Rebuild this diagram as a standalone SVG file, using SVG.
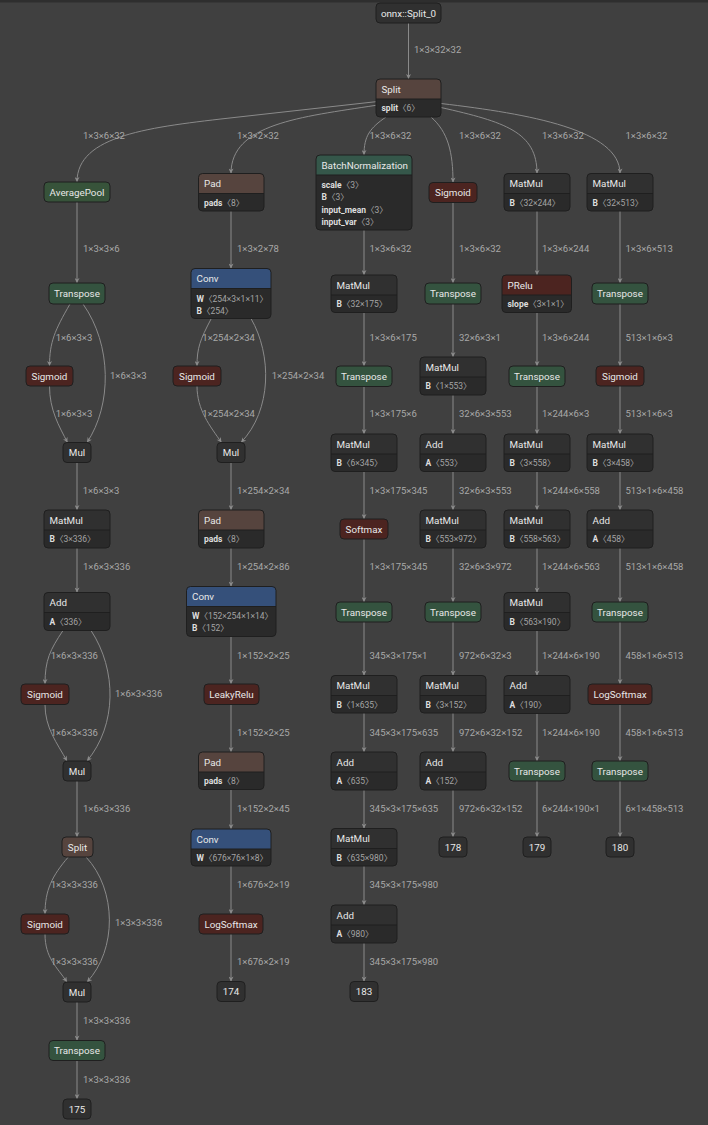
<svg xmlns="http://www.w3.org/2000/svg" width="708" height="1125" viewBox="0 0 708 1125">
<defs>
<marker id="ah" viewBox="0 0 10 10" refX="10" refY="5" markerWidth="6" markerHeight="5" markerUnits="userSpaceOnUse" orient="auto"><path d="M0,0 L10,5 L0,10 L3,5 z" fill="#8c8c8c"/></marker>
</defs>
<style>
.e{fill:none;stroke:#8a8a8a;stroke-width:1;marker-end:url(#ah)}
.el{font-family:Roboto,"Noto Sans CJK SC",sans-serif;font-size:9.5px;fill:#a8a8a8}
.t{font-family:Roboto,sans-serif;font-size:9.8px;fill:#e8e8e8}
.c{text-anchor:middle}
.a{font-family:Roboto,"Noto Sans CJK SC",sans-serif;font-size:8.5px;fill:#a4a4a4}
.k{font-weight:bold;fill:#dedede}
.o{fill:none;stroke:#1f1f1f;stroke-width:1}
.bd{fill:#2a2a2a}
.dk{fill:#303030}
.tf{fill:#34533f}
.nm{fill:#35574a}
.pl{fill:#37533a}
.ac{fill:#4c2420}
.tn{fill:#56443e}
.ly{fill:#35507a}
.dv{stroke:#1f1f1f;stroke-width:1}
</style>
<rect width="708" height="1125" fill="#404040"/>
<rect width="708" height="2.5" fill="#2e2e2e"/>
<g id="connectors">
<path class="e" d="M408.5,23 V79"/>
<path class="e" d="M376,101.7 L236,117.3 C150,127 77,135 77,182"/>
<path class="e" d="M376,105.3 C300,117 231,124 231,173.5"/>
<path class="e" d="M386,117 C370,128 364,136 364,155"/>
<path class="e" d="M431,117 C448,132 453,152 453,182.5"/>
<path class="e" d="M441,107.5 C505,122 537,132 537,173.5"/>
<path class="e" d="M441,103.5 C530,114 620,130 620,173.5"/>
<path class="e" d="M77,202 V283"/>
<path class="e" d="M70,304 C55,330 49.5,342 49.5,366"/>
<path class="e" d="M83,304 C112,345 112,405 87,442.5"/>
<path class="e" d="M49.5,386 C49.5,410 59,426 67.5,442.5"/>
<path class="e" d="M77,462.5 V510"/>
<path class="e" d="M77,548 V592.5"/>
<path class="e" d="M63,630.5 C50,650 45,660 45,684"/>
<path class="e" d="M91,630.5 C117,670 117,725 87,761"/>
<path class="e" d="M45,704.5 C45,728 57,743 67,761"/>
<path class="e" d="M77,781 V837"/>
<path class="e" d="M68.3,857 C52,876 45,890 45,914"/>
<path class="e" d="M86,857 C117,890 117,950 87,982"/>
<path class="e" d="M45,934 C45,958 57,967 67,982"/>
<path class="e" d="M77,1002 V1040.5"/>
<path class="e" d="M77,1060.5 V1099"/>
<path class="e" d="M231,211 V268.5"/>
<path class="e" d="M211.3,318.5 C200,340 197,348 197,366"/>
<path class="e" d="M251,318.5 C272,355 272,410 241,442.5"/>
<path class="e" d="M197,386 C197,410 210,426 221.5,442.5"/>
<path class="e" d="M231,462.5 V510"/>
<path class="e" d="M231,548 V586.5"/>
<path class="e" d="M231,636.5 V684"/>
<path class="e" d="M231,704.5 V752"/>
<path class="e" d="M231,789.5 V829"/>
<path class="e" d="M231,866 V914"/>
<path class="e" d="M231,934 V981.5"/>
<path class="e" d="M364,230 V275"/>
<path class="e" d="M364,312.5 V366"/>
<path class="e" d="M364,386.5 V434"/>
<path class="e" d="M364,471.5 V519"/>
<path class="e" d="M364,539 V602"/>
<path class="e" d="M364,622 V675.5"/>
<path class="e" d="M364,713 V752"/>
<path class="e" d="M364,790 V828.5"/>
<path class="e" d="M364,866 V905"/>
<path class="e" d="M364,943 V981.5"/>
<path class="e" d="M453,202.5 V283"/>
<path class="e" d="M453,304 V357"/>
<path class="e" d="M453,395 V434"/>
<path class="e" d="M453,471.5 V510"/>
<path class="e" d="M453,548 V602"/>
<path class="e" d="M453,622 V675.5"/>
<path class="e" d="M453,713 V752"/>
<path class="e" d="M453,790 V837"/>
<path class="e" d="M537,211 V275"/>
<path class="e" d="M537,312.5 V366"/>
<path class="e" d="M537,386.5 V434"/>
<path class="e" d="M537,471.5 V510"/>
<path class="e" d="M537,548 V592.5"/>
<path class="e" d="M537,630.5 V675.5"/>
<path class="e" d="M537,713.5 V761"/>
<path class="e" d="M537,781 V837"/>
<path class="e" d="M620,211 V283"/>
<path class="e" d="M620,304 V366"/>
<path class="e" d="M620,386 V434"/>
<path class="e" d="M620,471.5 V510"/>
<path class="e" d="M620,548 V602"/>
<path class="e" d="M620,622 V684"/>
<path class="e" d="M620,704.5 V761"/>
<path class="e" d="M620,781 V837"/>
<g class="el">
<text x="414" y="53.3">1×3×32×32</text>
<text x="83" y="139.3">1×3×6×32</text>
<text x="237" y="139.3">1×3×2×32</text>
<text x="369.5" y="139.3">1×3×6×32</text>
<text x="459" y="139.3">1×3×6×32</text>
<text x="542" y="139.3">1×3×6×32</text>
<text x="625.5" y="139.3">1×3×6×32</text>
<text x="83" y="252.3">1×3×3×6</text>
<text x="237" y="252.3">1×3×2×78</text>
<text x="369.5" y="252.3">1×3×6×32</text>
<text x="459" y="252.3">1×3×6×32</text>
<text x="542" y="252.3">1×3×6×244</text>
<text x="625.5" y="252.3">1×3×6×513</text>
<text x="55.7" y="341">1×6×3×3</text>
<text x="202.3" y="341">1×254×2×34</text>
<text x="369.5" y="341">1×3×6×175</text>
<text x="459" y="341">32×6×3×1</text>
<text x="542" y="341">1×3×6×244</text>
<text x="625.5" y="341">513×1×6×3</text>
<text x="110" y="379">1×6×3×3</text>
<text x="271.7" y="379">1×254×2×34</text>
<text x="55.7" y="417">1×6×3×3</text>
<text x="202.3" y="417">1×254×2×34</text>
<text x="369.5" y="417">1×3×175×6</text>
<text x="459" y="417">32×6×3×553</text>
<text x="542" y="417">1×244×6×3</text>
<text x="625.5" y="417">513×1×6×3</text>
<text x="82.7" y="494">1×6×3×3</text>
<text x="237" y="494">1×254×2×34</text>
<text x="369.5" y="494">1×3×175×345</text>
<text x="459" y="494">32×6×3×553</text>
<text x="542" y="494">1×244×6×558</text>
<text x="625.5" y="494">513×1×6×458</text>
<text x="83" y="570.3">1×6×3×336</text>
<text x="237" y="570.3">1×254×2×86</text>
<text x="369.5" y="570.3">1×3×175×345</text>
<text x="459" y="570.3">32×6×3×972</text>
<text x="542" y="570.3">1×244×6×563</text>
<text x="625.5" y="570.3">513×1×6×458</text>
<text x="50.7" y="659.3">1×6×3×336</text>
<text x="237" y="659.3">1×152×2×25</text>
<text x="369.5" y="659.3">345×3×175×1</text>
<text x="459" y="659.3">972×6×32×3</text>
<text x="542" y="659.3">1×244×6×190</text>
<text x="625.5" y="659.3">458×1×6×513</text>
<text x="115" y="697.3">1×6×3×336</text>
<text x="50.7" y="735.6">1×6×3×336</text>
<text x="237" y="735.6">1×152×2×25</text>
<text x="369.5" y="735.6">345×3×175×635</text>
<text x="459" y="735.6">972×6×32×152</text>
<text x="542" y="735.6">1×244×6×190</text>
<text x="625.5" y="735.6">458×1×6×513</text>
<text x="83" y="812">1×6×3×336</text>
<text x="237" y="812">1×152×2×45</text>
<text x="369.5" y="812">345×3×175×635</text>
<text x="459" y="812">972×6×32×152</text>
<text x="542" y="812">6×244×190×1</text>
<text x="625.5" y="812">6×1×458×513</text>
<text x="50.7" y="888.3">1×3×3×336</text>
<text x="237" y="888.3">1×676×2×19</text>
<text x="369.5" y="888.3">345×3×175×980</text>
<text x="115" y="926.3">1×3×3×336</text>
<text x="50.7" y="965">1×3×3×336</text>
<text x="237" y="965">1×676×2×19</text>
<text x="369.5" y="965">345×3×175×980</text>
<text x="83" y="1023.6">1×3×3×336</text>
<text x="83" y="1082.6">1×3×3×336</text>
</g>
</g>
<g id="n_input"><rect class="dk" x="376" y="3" width="65" height="20" rx="4"/><rect class="o" x="376" y="3" width="65" height="20" rx="4"/><text class="t c" x="408.5" y="16.5">onnx::Split_0</text></g>
<g id="n_split"><rect class="bd" x="376" y="79" width="65" height="38" rx="4"/><path class="tn" d="M376,99 v-16 q0,-4 4,-4 h57 q4,0 4,4 v16 z"/><line class="dv" x1="376" y1="99" x2="441" y2="99"/><rect class="o" x="376" y="79" width="65" height="38" rx="4"/><text class="t" x="381.5" y="92.5">Split</text><text class="a" x="381.5" y="111"><tspan class="k">split</tspan>〈6〉</text></g>
<g id="n_averagepool"><rect class="pl" x="44" y="182" width="66" height="20" rx="4"/><rect class="o" x="44" y="182" width="66" height="20" rx="4"/><text class="t c" x="77" y="195.5">AveragePool</text></g>
<g id="n_transpose1"><rect class="tf" x="49" y="283" width="56" height="21" rx="4"/><rect class="o" x="49" y="283" width="56" height="21" rx="4"/><text class="t c" x="77" y="297">Transpose</text></g>
<g id="n_sigmoid1"><rect class="ac" x="26" y="366" width="47" height="20" rx="4"/><rect class="o" x="26" y="366" width="47" height="20" rx="4"/><text class="t c" x="49.5" y="379.5">Sigmoid</text></g>
<g id="n_mul1"><rect class="dk" x="63" y="442.5" width="28" height="20" rx="4"/><rect class="o" x="63" y="442.5" width="28" height="20" rx="4"/><text class="t c" x="77" y="456">Mul</text></g>
<g id="n_matmul1"><rect class="bd" x="44" y="510" width="66" height="38" rx="4"/><path class="dk" d="M44,530 v-16 q0,-4 4,-4 h58 q4,0 4,4 v16 z"/><line class="dv" x1="44" y1="530" x2="110" y2="530"/><rect class="o" x="44" y="510" width="66" height="38" rx="4"/><text class="t" x="49.5" y="523.5">MatMul</text><text class="a" x="49.5" y="542"><tspan class="k">B</tspan>〈3×336〉</text></g>
<g id="n_add1"><rect class="bd" x="44" y="592.5" width="66" height="38" rx="4"/><path class="dk" d="M44,612.5 v-16 q0,-4 4,-4 h58 q4,0 4,4 v16 z"/><line class="dv" x1="44" y1="612.5" x2="110" y2="612.5"/><rect class="o" x="44" y="592.5" width="66" height="38" rx="4"/><text class="t" x="49.5" y="606">Add</text><text class="a" x="49.5" y="624.5"><tspan class="k">A</tspan>〈336〉</text></g>
<g id="n_sigmoid2"><rect class="ac" x="21" y="684" width="48" height="20.5" rx="4"/><rect class="o" x="21" y="684" width="48" height="20.5" rx="4"/><text class="t c" x="45" y="697.5">Sigmoid</text></g>
<g id="n_mul2"><rect class="dk" x="63" y="761" width="28" height="20" rx="4"/><rect class="o" x="63" y="761" width="28" height="20" rx="4"/><text class="t c" x="77" y="774.5">Mul</text></g>
<g id="n_split2"><rect class="tn" x="62" y="837" width="31" height="20" rx="4"/><rect class="o" x="62" y="837" width="31" height="20" rx="4"/><text class="t c" x="77.5" y="850.5">Split</text></g>
<g id="n_sigmoid3"><rect class="ac" x="21" y="914" width="48" height="20" rx="4"/><rect class="o" x="21" y="914" width="48" height="20" rx="4"/><text class="t c" x="45" y="927.5">Sigmoid</text></g>
<g id="n_mul3"><rect class="dk" x="63" y="982" width="28" height="20" rx="4"/><rect class="o" x="63" y="982" width="28" height="20" rx="4"/><text class="t c" x="77" y="995.5">Mul</text></g>
<g id="n_transpose2"><rect class="tf" x="49" y="1040.5" width="56" height="20" rx="4"/><rect class="o" x="49" y="1040.5" width="56" height="20" rx="4"/><text class="t c" x="77" y="1054">Transpose</text></g>
<g id="n_out175"><rect class="dk" x="63" y="1099" width="28" height="20" rx="4"/><rect class="o" x="63" y="1099" width="28" height="20" rx="4"/><text class="t c" x="77" y="1112.5">175</text></g>
<g id="n_pad1"><rect class="bd" x="198.5" y="173.5" width="65.5" height="37.5" rx="4"/><path class="tn" d="M198.5,193.5 v-16 q0,-4 4,-4 h57.5 q4,0 4,4 v16 z"/><line class="dv" x1="198.5" y1="193.5" x2="264" y2="193.5"/><rect class="o" x="198.5" y="173.5" width="65.5" height="37.5" rx="4"/><text class="t" x="204" y="187">Pad</text><text class="a" x="204" y="205.5"><tspan class="k">pads</tspan>〈8〉</text></g>
<g id="n_conv1"><rect class="bd" x="191" y="268.5" width="80" height="50" rx="4"/><path class="ly" d="M191,288.5 v-16 q0,-4 4,-4 h72 q4,0 4,4 v16 z"/><line class="dv" x1="191" y1="288.5" x2="271" y2="288.5"/><rect class="o" x="191" y="268.5" width="80" height="50" rx="4"/><text class="t" x="196.5" y="282">Conv</text><text class="a" x="196.5" y="302"><tspan class="k">W</tspan>〈254×3×1×11〉</text><text class="a" x="196.5" y="313.7"><tspan class="k">B</tspan>〈254〉</text></g>
<g id="n_sigmoid4"><rect class="ac" x="173" y="366" width="48" height="20" rx="4"/><rect class="o" x="173" y="366" width="48" height="20" rx="4"/><text class="t c" x="197" y="379.5">Sigmoid</text></g>
<g id="n_mul4"><rect class="dk" x="217" y="442.5" width="28" height="20" rx="4"/><rect class="o" x="217" y="442.5" width="28" height="20" rx="4"/><text class="t c" x="231" y="456">Mul</text></g>
<g id="n_pad2"><rect class="bd" x="198.5" y="510" width="65.5" height="38" rx="4"/><path class="tn" d="M198.5,530 v-16 q0,-4 4,-4 h57.5 q4,0 4,4 v16 z"/><line class="dv" x1="198.5" y1="530" x2="264" y2="530"/><rect class="o" x="198.5" y="510" width="65.5" height="38" rx="4"/><text class="t" x="204" y="523.5">Pad</text><text class="a" x="204" y="542"><tspan class="k">pads</tspan>〈8〉</text></g>
<g id="n_conv2"><rect class="bd" x="186.5" y="586.5" width="89.5" height="50" rx="4"/><path class="ly" d="M186.5,606.5 v-16 q0,-4 4,-4 h81.5 q4,0 4,4 v16 z"/><line class="dv" x1="186.5" y1="606.5" x2="276" y2="606.5"/><rect class="o" x="186.5" y="586.5" width="89.5" height="50" rx="4"/><text class="t" x="192" y="600">Conv</text><text class="a" x="192" y="619"><tspan class="k">W</tspan>〈152×254×1×14〉</text><text class="a" x="192" y="631.3"><tspan class="k">B</tspan>〈152〉</text></g>
<g id="n_leakyrelu"><rect class="ac" x="204" y="684" width="55" height="20.5" rx="4"/><rect class="o" x="204" y="684" width="55" height="20.5" rx="4"/><text class="t c" x="231.5" y="697.5">LeakyRelu</text></g>
<g id="n_pad3"><rect class="bd" x="198.5" y="752" width="65.5" height="37.5" rx="4"/><path class="tn" d="M198.5,772 v-16 q0,-4 4,-4 h57.5 q4,0 4,4 v16 z"/><line class="dv" x1="198.5" y1="772" x2="264" y2="772"/><rect class="o" x="198.5" y="752" width="65.5" height="37.5" rx="4"/><text class="t" x="204" y="765.5">Pad</text><text class="a" x="204" y="784"><tspan class="k">pads</tspan>〈8〉</text></g>
<g id="n_conv3"><rect class="bd" x="191" y="829" width="80" height="37" rx="4"/><path class="ly" d="M191,849 v-16 q0,-4 4,-4 h72 q4,0 4,4 v16 z"/><line class="dv" x1="191" y1="849" x2="271" y2="849"/><rect class="o" x="191" y="829" width="80" height="37" rx="4"/><text class="t" x="196.5" y="842.5">Conv</text><text class="a" x="196.5" y="861"><tspan class="k">W</tspan>〈676×76×1×8〉</text></g>
<g id="n_logsoftmax1"><rect class="ac" x="199" y="914" width="64" height="20" rx="4"/><rect class="o" x="199" y="914" width="64" height="20" rx="4"/><text class="t c" x="231" y="927.5">LogSoftmax</text></g>
<g id="n_out174"><rect class="dk" x="217" y="981.5" width="28" height="20" rx="4"/><rect class="o" x="217" y="981.5" width="28" height="20" rx="4"/><text class="t c" x="231" y="995">174</text></g>
<g id="n_batchnorm"><rect class="bd" x="316" y="155" width="96" height="75" rx="4"/><path class="nm" d="M316,175 v-16 q0,-4 4,-4 h88 q4,0 4,4 v16 z"/><line class="dv" x1="316" y1="175" x2="412" y2="175"/><rect class="o" x="316" y="155" width="96" height="75" rx="4"/><text class="t" x="321.5" y="168.5">BatchNormalization</text><text class="a" x="321.5" y="188"><tspan class="k">scale</tspan>〈3〉</text><text class="a" x="321.5" y="200.3"><tspan class="k">B</tspan>〈3〉</text><text class="a" x="321.5" y="212.5"><tspan class="k">input_mean</tspan>〈3〉</text><text class="a" x="321.5" y="224.7"><tspan class="k">input_var</tspan>〈3〉</text></g>
<g id="n_matmul3a"><rect class="bd" x="331" y="275" width="66" height="37.5" rx="4"/><path class="dk" d="M331,295 v-16 q0,-4 4,-4 h58 q4,0 4,4 v16 z"/><line class="dv" x1="331" y1="295" x2="397" y2="295"/><rect class="o" x="331" y="275" width="66" height="37.5" rx="4"/><text class="t" x="336.5" y="288.5">MatMul</text><text class="a" x="336.5" y="307"><tspan class="k">B</tspan>〈32×175〉</text></g>
<g id="n_transpose3a"><rect class="tf" x="336" y="366" width="56" height="20.5" rx="4"/><rect class="o" x="336" y="366" width="56" height="20.5" rx="4"/><text class="t c" x="364" y="379.5">Transpose</text></g>
<g id="n_matmul3b"><rect class="bd" x="331" y="434" width="66" height="37.5" rx="4"/><path class="dk" d="M331,454 v-16 q0,-4 4,-4 h58 q4,0 4,4 v16 z"/><line class="dv" x1="331" y1="454" x2="397" y2="454"/><rect class="o" x="331" y="434" width="66" height="37.5" rx="4"/><text class="t" x="336.5" y="447.5">MatMul</text><text class="a" x="336.5" y="466"><tspan class="k">B</tspan>〈6×345〉</text></g>
<g id="n_softmax"><rect class="ac" x="340" y="519" width="48" height="20" rx="4"/><rect class="o" x="340" y="519" width="48" height="20" rx="4"/><text class="t c" x="364" y="532.5">Softmax</text></g>
<g id="n_transpose3b"><rect class="tf" x="336" y="602" width="56" height="20" rx="4"/><rect class="o" x="336" y="602" width="56" height="20" rx="4"/><text class="t c" x="364" y="615.5">Transpose</text></g>
<g id="n_matmul3c"><rect class="bd" x="331" y="675.5" width="66" height="37.5" rx="4"/><path class="dk" d="M331,695.5 v-16 q0,-4 4,-4 h58 q4,0 4,4 v16 z"/><line class="dv" x1="331" y1="695.5" x2="397" y2="695.5"/><rect class="o" x="331" y="675.5" width="66" height="37.5" rx="4"/><text class="t" x="336.5" y="689">MatMul</text><text class="a" x="336.5" y="707.5"><tspan class="k">B</tspan>〈1×635〉</text></g>
<g id="n_add3a"><rect class="bd" x="331" y="752" width="66" height="38" rx="4"/><path class="dk" d="M331,772 v-16 q0,-4 4,-4 h58 q4,0 4,4 v16 z"/><line class="dv" x1="331" y1="772" x2="397" y2="772"/><rect class="o" x="331" y="752" width="66" height="38" rx="4"/><text class="t" x="336.5" y="765.5">Add</text><text class="a" x="336.5" y="784"><tspan class="k">A</tspan>〈635〉</text></g>
<g id="n_matmul3d"><rect class="bd" x="331" y="828.5" width="66" height="37.5" rx="4"/><path class="dk" d="M331,848.5 v-16 q0,-4 4,-4 h58 q4,0 4,4 v16 z"/><line class="dv" x1="331" y1="848.5" x2="397" y2="848.5"/><rect class="o" x="331" y="828.5" width="66" height="37.5" rx="4"/><text class="t" x="336.5" y="842">MatMul</text><text class="a" x="336.5" y="860.5"><tspan class="k">B</tspan>〈635×980〉</text></g>
<g id="n_add3b"><rect class="bd" x="331" y="905" width="66" height="38" rx="4"/><path class="dk" d="M331,925 v-16 q0,-4 4,-4 h58 q4,0 4,4 v16 z"/><line class="dv" x1="331" y1="925" x2="397" y2="925"/><rect class="o" x="331" y="905" width="66" height="38" rx="4"/><text class="t" x="336.5" y="918.5">Add</text><text class="a" x="336.5" y="937"><tspan class="k">A</tspan>〈980〉</text></g>
<g id="n_out183"><rect class="dk" x="350" y="981.5" width="28" height="20" rx="4"/><rect class="o" x="350" y="981.5" width="28" height="20" rx="4"/><text class="t c" x="364" y="995">183</text></g>
<g id="n_sigmoid5"><rect class="ac" x="429" y="182.5" width="48" height="20" rx="4"/><rect class="o" x="429" y="182.5" width="48" height="20" rx="4"/><text class="t c" x="453" y="196">Sigmoid</text></g>
<g id="n_transpose4a"><rect class="tf" x="425" y="283" width="56" height="21" rx="4"/><rect class="o" x="425" y="283" width="56" height="21" rx="4"/><text class="t c" x="453" y="297">Transpose</text></g>
<g id="n_matmul4a"><rect class="bd" x="420" y="357" width="66" height="38" rx="4"/><path class="dk" d="M420,377 v-16 q0,-4 4,-4 h58 q4,0 4,4 v16 z"/><line class="dv" x1="420" y1="377" x2="486" y2="377"/><rect class="o" x="420" y="357" width="66" height="38" rx="4"/><text class="t" x="425.5" y="370.5">MatMul</text><text class="a" x="425.5" y="389"><tspan class="k">B</tspan>〈1×553〉</text></g>
<g id="n_add4a"><rect class="bd" x="420" y="434" width="66" height="37.5" rx="4"/><path class="dk" d="M420,454 v-16 q0,-4 4,-4 h58 q4,0 4,4 v16 z"/><line class="dv" x1="420" y1="454" x2="486" y2="454"/><rect class="o" x="420" y="434" width="66" height="37.5" rx="4"/><text class="t" x="425.5" y="447.5">Add</text><text class="a" x="425.5" y="466"><tspan class="k">A</tspan>〈553〉</text></g>
<g id="n_matmul4b"><rect class="bd" x="420" y="510" width="66" height="38" rx="4"/><path class="dk" d="M420,530 v-16 q0,-4 4,-4 h58 q4,0 4,4 v16 z"/><line class="dv" x1="420" y1="530" x2="486" y2="530"/><rect class="o" x="420" y="510" width="66" height="38" rx="4"/><text class="t" x="425.5" y="523.5">MatMul</text><text class="a" x="425.5" y="542"><tspan class="k">B</tspan>〈553×972〉</text></g>
<g id="n_transpose4b"><rect class="tf" x="425" y="602" width="56" height="20" rx="4"/><rect class="o" x="425" y="602" width="56" height="20" rx="4"/><text class="t c" x="453" y="615.5">Transpose</text></g>
<g id="n_matmul4c"><rect class="bd" x="420" y="675.5" width="66" height="37.5" rx="4"/><path class="dk" d="M420,695.5 v-16 q0,-4 4,-4 h58 q4,0 4,4 v16 z"/><line class="dv" x1="420" y1="695.5" x2="486" y2="695.5"/><rect class="o" x="420" y="675.5" width="66" height="37.5" rx="4"/><text class="t" x="425.5" y="689">MatMul</text><text class="a" x="425.5" y="707.5"><tspan class="k">B</tspan>〈3×152〉</text></g>
<g id="n_add4b"><rect class="bd" x="420" y="752" width="66" height="38" rx="4"/><path class="dk" d="M420,772 v-16 q0,-4 4,-4 h58 q4,0 4,4 v16 z"/><line class="dv" x1="420" y1="772" x2="486" y2="772"/><rect class="o" x="420" y="752" width="66" height="38" rx="4"/><text class="t" x="425.5" y="765.5">Add</text><text class="a" x="425.5" y="784"><tspan class="k">A</tspan>〈152〉</text></g>
<g id="n_out178"><rect class="dk" x="439" y="837" width="28" height="20" rx="4"/><rect class="o" x="439" y="837" width="28" height="20" rx="4"/><text class="t c" x="453" y="850.5">178</text></g>
<g id="n_matmul5a"><rect class="bd" x="504" y="173.5" width="66" height="37.5" rx="4"/><path class="dk" d="M504,193.5 v-16 q0,-4 4,-4 h58 q4,0 4,4 v16 z"/><line class="dv" x1="504" y1="193.5" x2="570" y2="193.5"/><rect class="o" x="504" y="173.5" width="66" height="37.5" rx="4"/><text class="t" x="509.5" y="187">MatMul</text><text class="a" x="509.5" y="205.5"><tspan class="k">B</tspan>〈32×244〉</text></g>
<g id="n_prelu"><rect class="bd" x="502" y="275" width="69.5" height="37.5" rx="4"/><path class="ac" d="M502,295 v-16 q0,-4 4,-4 h61.5 q4,0 4,4 v16 z"/><line class="dv" x1="502" y1="295" x2="571.5" y2="295"/><rect class="o" x="502" y="275" width="69.5" height="37.5" rx="4"/><text class="t" x="507.5" y="288.5">PRelu</text><text class="a" x="507.5" y="307"><tspan class="k">slope</tspan>〈3×1×1〉</text></g>
<g id="n_transpose5a"><rect class="tf" x="509" y="366" width="56" height="20.5" rx="4"/><rect class="o" x="509" y="366" width="56" height="20.5" rx="4"/><text class="t c" x="537" y="379.5">Transpose</text></g>
<g id="n_matmul5b"><rect class="bd" x="504" y="434" width="66" height="37.5" rx="4"/><path class="dk" d="M504,454 v-16 q0,-4 4,-4 h58 q4,0 4,4 v16 z"/><line class="dv" x1="504" y1="454" x2="570" y2="454"/><rect class="o" x="504" y="434" width="66" height="37.5" rx="4"/><text class="t" x="509.5" y="447.5">MatMul</text><text class="a" x="509.5" y="466"><tspan class="k">B</tspan>〈3×558〉</text></g>
<g id="n_matmul5c"><rect class="bd" x="504" y="510" width="66" height="38" rx="4"/><path class="dk" d="M504,530 v-16 q0,-4 4,-4 h58 q4,0 4,4 v16 z"/><line class="dv" x1="504" y1="530" x2="570" y2="530"/><rect class="o" x="504" y="510" width="66" height="38" rx="4"/><text class="t" x="509.5" y="523.5">MatMul</text><text class="a" x="509.5" y="542"><tspan class="k">B</tspan>〈558×563〉</text></g>
<g id="n_matmul5d"><rect class="bd" x="504" y="592.5" width="66" height="38" rx="4"/><path class="dk" d="M504,612.5 v-16 q0,-4 4,-4 h58 q4,0 4,4 v16 z"/><line class="dv" x1="504" y1="612.5" x2="570" y2="612.5"/><rect class="o" x="504" y="592.5" width="66" height="38" rx="4"/><text class="t" x="509.5" y="606">MatMul</text><text class="a" x="509.5" y="624.5"><tspan class="k">B</tspan>〈563×190〉</text></g>
<g id="n_add5"><rect class="bd" x="504" y="675.5" width="66" height="38" rx="4"/><path class="dk" d="M504,695.5 v-16 q0,-4 4,-4 h58 q4,0 4,4 v16 z"/><line class="dv" x1="504" y1="695.5" x2="570" y2="695.5"/><rect class="o" x="504" y="675.5" width="66" height="38" rx="4"/><text class="t" x="509.5" y="689">Add</text><text class="a" x="509.5" y="707.5"><tspan class="k">A</tspan>〈190〉</text></g>
<g id="n_transpose5b"><rect class="tf" x="509" y="761" width="56" height="20" rx="4"/><rect class="o" x="509" y="761" width="56" height="20" rx="4"/><text class="t c" x="537" y="774.5">Transpose</text></g>
<g id="n_out179"><rect class="dk" x="523" y="837" width="28" height="20" rx="4"/><rect class="o" x="523" y="837" width="28" height="20" rx="4"/><text class="t c" x="537" y="850.5">179</text></g>
<g id="n_matmul6a"><rect class="bd" x="587" y="173.5" width="66" height="37.5" rx="4"/><path class="dk" d="M587,193.5 v-16 q0,-4 4,-4 h58 q4,0 4,4 v16 z"/><line class="dv" x1="587" y1="193.5" x2="653" y2="193.5"/><rect class="o" x="587" y="173.5" width="66" height="37.5" rx="4"/><text class="t" x="592.5" y="187">MatMul</text><text class="a" x="592.5" y="205.5"><tspan class="k">B</tspan>〈32×513〉</text></g>
<g id="n_transpose6a"><rect class="tf" x="592" y="283" width="56" height="21" rx="4"/><rect class="o" x="592" y="283" width="56" height="21" rx="4"/><text class="t c" x="620" y="297">Transpose</text></g>
<g id="n_sigmoid6"><rect class="ac" x="596" y="366" width="48" height="20" rx="4"/><rect class="o" x="596" y="366" width="48" height="20" rx="4"/><text class="t c" x="620" y="379.5">Sigmoid</text></g>
<g id="n_matmul6b"><rect class="bd" x="587" y="434" width="66" height="37.5" rx="4"/><path class="dk" d="M587,454 v-16 q0,-4 4,-4 h58 q4,0 4,4 v16 z"/><line class="dv" x1="587" y1="454" x2="653" y2="454"/><rect class="o" x="587" y="434" width="66" height="37.5" rx="4"/><text class="t" x="592.5" y="447.5">MatMul</text><text class="a" x="592.5" y="466"><tspan class="k">B</tspan>〈3×458〉</text></g>
<g id="n_add6"><rect class="bd" x="587" y="510" width="66" height="38" rx="4"/><path class="dk" d="M587,530 v-16 q0,-4 4,-4 h58 q4,0 4,4 v16 z"/><line class="dv" x1="587" y1="530" x2="653" y2="530"/><rect class="o" x="587" y="510" width="66" height="38" rx="4"/><text class="t" x="592.5" y="523.5">Add</text><text class="a" x="592.5" y="542"><tspan class="k">A</tspan>〈458〉</text></g>
<g id="n_transpose6b"><rect class="tf" x="592" y="602" width="56" height="20" rx="4"/><rect class="o" x="592" y="602" width="56" height="20" rx="4"/><text class="t c" x="620" y="615.5">Transpose</text></g>
<g id="n_logsoftmax2"><rect class="ac" x="588" y="684" width="64" height="20.5" rx="4"/><rect class="o" x="588" y="684" width="64" height="20.5" rx="4"/><text class="t c" x="620" y="697.5">LogSoftmax</text></g>
<g id="n_transpose6c"><rect class="tf" x="592" y="761" width="56" height="20" rx="4"/><rect class="o" x="592" y="761" width="56" height="20" rx="4"/><text class="t c" x="620" y="774.5">Transpose</text></g>
<g id="n_out180"><rect class="dk" x="606" y="837" width="28" height="20" rx="4"/><rect class="o" x="606" y="837" width="28" height="20" rx="4"/><text class="t c" x="620" y="850.5">180</text></g>
</svg>
